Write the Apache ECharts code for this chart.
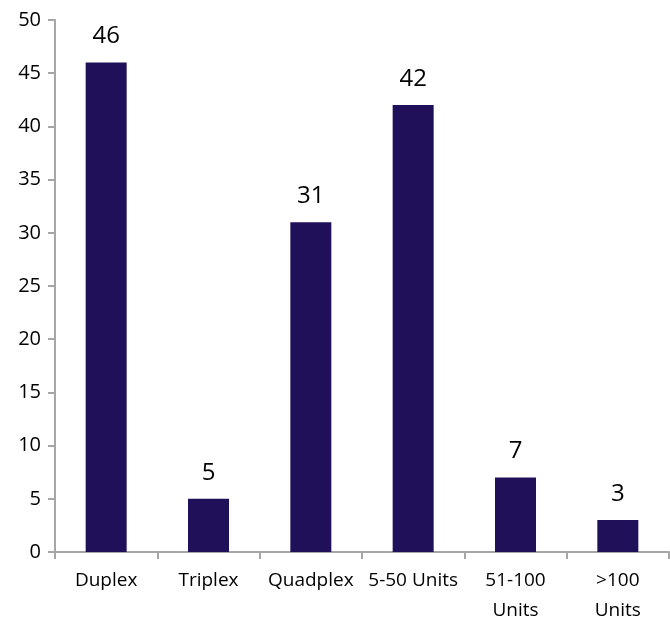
<!DOCTYPE html>
<html>
<head>
<meta charset="utf-8">
<script src="https://cdn.jsdelivr.net/npm/echarts@6/dist/echarts.min.js"></script>
<style>
  html, body { margin: 0; padding: 0; background: #fff; }
  #chart { width: 670px; height: 620px; }
</style>
</head>
<body>
<div id="chart"></div>
<script>
const categories = ['Duplex', 'Triplex', 'Quadplex', '5-50 Units', '51-100\nUnits', '>100\nUnits'];
const counts = [46, 5, 31, 42, 7, 3];
const yTicks = [0, 50, 5];

let chart = echarts.init(document.getElementById('chart'));
let font = '"Open Sans", "Liberation Sans", sans-serif';
let option = {
    animation: false,
    grid: {
        left: 55,
        right: 1,
        top: 20,
        bottom: 68,
        outerBoundsMode: 'none',
    },
    xAxis: {
        type: 'category',
        data: categories,
        axisLine: { lineStyle: { color: '#a6a6a6', width: 2 } },
        axisTick: { show: true, length: 7, lineStyle: { color: '#a6a6a6', width: 2 } },
        axisLabel: {
            interval: 0,
            color: '#000',
            fontSize: 19,
            fontFamily: font,
            margin: 14,
            lineHeight: 30,
        },
    },
    yAxis: {
        type: 'value',
        min: yTicks[0],
        max: yTicks[1],
        interval: yTicks[2],
        splitLine: { show: false },
        axisLine: { show: true, lineStyle: { color: '#a6a6a6', width: 2 } },
        axisTick: { show: true, length: 7, lineStyle: { color: '#a6a6a6', width: 2 } },
        axisLabel: {
            color: '#000',
            fontSize: 20,
            fontFamily: font,
            margin: 14,
        },
    },
    series: [{
        type: 'bar',
        data: counts,
        barWidth: 41,
        itemStyle: { color: '#20105a' },
        label: {
            show: true,
            position: 'top',
            distance: 14,
            color: '#000',
            fontSize: 24,
            fontFamily: font,
        },
    }],
};
chart.setOption(option);
</script>
</body>
</html>
